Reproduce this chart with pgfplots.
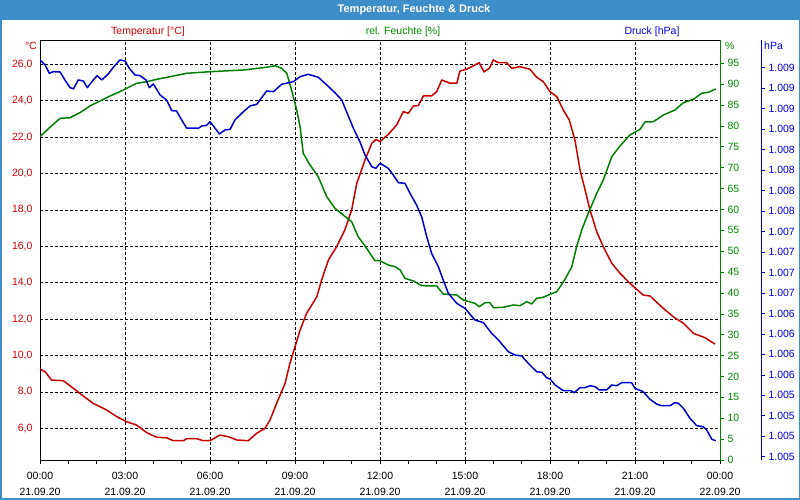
\documentclass[border=0pt]{standalone}
\usepackage{fontspec}
\setmainfont{Liberation Sans}
\usepackage{pgfplots}
\pgfplotsset{compat=1.18}
\definecolor{titlebar}{RGB}{61,142,201}
\definecolor{tred}{RGB}{200,0,0}
\definecolor{tredtxt}{RGB}{215,0,0}
\definecolor{hgreen}{RGB}{0,128,0}
\definecolor{hgreentxt}{RGB}{0,140,0}
\definecolor{pblue}{RGB}{0,0,204}
\definecolor{pbluetxt}{RGB}{0,0,225}
\newcommand{\tfont}{\fontsize{10.5}{16}\selectfont}
\pgfplotsset{
  common/.style={
    at={(40pt,40pt)}, anchor=south west,
    width=680pt, height=419.7pt, scale only axis,
    xmin=0, xmax=24,
    tick align=outside,
    major tick length=4pt, minor tick length=4pt,
    tick label style={font=\tfont},
    /pgf/number format/assume math mode=true,
  }
}
\begin{document}
\begin{tikzpicture}
\fill[titlebar] (0pt,0pt) rectangle (800pt,500pt);
\fill[white] (1.5pt,1.5pt) rectangle (798.5pt,479.5pt);
\node[white, font=\fontsize{11}{13}\selectfont\bfseries] at (414pt,490pt) {Temperatur, Feuchte \& Druck};
\node[tredtxt, font=\tfont] at (148pt,468pt) {Temperatur [°C]};
\node[hgreentxt, font=\tfont] at (403pt,468pt) {rel. Feuchte [\%]};
\node[pbluetxt, font=\tfont] at (652pt,468pt) {Druck [hPa]};
\node[tredtxt, font=\tfont, anchor=east, inner sep=0pt] at (37pt,454pt) {°C};
\node[hgreentxt, font=\tfont, anchor=west, inner sep=0pt] at (725pt,454pt) {\%};
\node[pbluetxt, font=\tfont, anchor=west, inner sep=0pt] at (764pt,454pt) {hPa};

% Temperature axis with grid and time axis
\begin{axis}[common,
  ymin=4.26, ymax=27.32,
  axis line style={black, line width=0.8pt},
  xtick={0,3,...,24},
  xticklabels={{00:00\\21.09.20},{03:00\\21.09.20},{06:00\\21.09.20},{09:00\\21.09.20},{12:00\\21.09.20},{15:00\\21.09.20},{18:00\\21.09.20},{21:00\\21.09.20},{00:00\\22.09.20}},
  minor xtick={1,2,4,5,7,8,10,11,13,14,16,17,19,20,22,23},
  xtick pos=left, ytick pos=left,
  ytick={6,8,...,26},
  ytick style={draw=none},
  xtick style={black, line width=0.6pt},
  minor tick style={black, line width=0.6pt},
  xmajorgrids, ymajorgrids,
  major grid style={black, line width=0.6pt, dash pattern=on 3pt off 2pt},
  xticklabel style={align=center, black, yshift=-5pt},
  yticklabel style={tredtxt, /pgf/number format/fixed, /pgf/number format/fixed zerofill, /pgf/number format/precision=1, /pgf/number format/use comma},
]
\addplot[tred, line width=1.5pt, line join=round] coordinates {
(0,9.26)(0.18,9.11)(0.41,8.65)(0.82,8.62)(1.18,8.20)(1.53,7.77)(1.88,7.37)(2.35,7.01)(2.71,6.64)(3.06,6.36)(3.41,6.18)(3.77,5.76)(4.12,5.51)(4.47,5.48)(4.70,5.32)(5.06,5.32)(5.18,5.43)(5.53,5.43)(5.76,5.32)(6.0,5.32)(6.35,5.63)(6.65,5.54)(6.94,5.36)(7.35,5.32)(7.65,5.73)(7.94,6.00)(8.12,6.46)(8.35,7.37)(8.65,8.47)(8.82,9.57)(9.00,10.48)(9.18,11.40)(9.41,12.32)(9.77,13.23)(9.94,14.15)(10.18,15.25)(10.47,15.98)(10.76,16.90)(11.00,18.00)(11.18,19.46)(11.47,20.74)(11.71,21.66)(11.86,21.88)(12.00,21.75)(12.29,22.15)(12.59,22.67)(12.82,23.40)(13.00,23.31)(13.18,23.71)(13.35,23.73)(13.53,24.26)(13.82,24.26)(14.00,24.50)(14.18,25.14)(14.47,24.96)(14.71,24.96)(14.82,25.63)(15.06,25.73)(15.29,25.91)(15.50,26.09)(15.67,25.58)(15.86,25.78)(16.00,26.24)(16.18,26.09)(16.47,26.09)(16.65,25.78)(16.94,25.87)(17.29,25.73)(17.53,25.29)(17.76,25.05)(18.00,24.50)(18.24,24.22)(18.47,23.49)(18.68,22.94)(18.88,21.84)(19.06,20.19)(19.24,19.09)(19.41,18.00)(19.65,16.80)(19.88,15.98)(20.18,15.07)(20.47,14.52)(20.82,13.97)(21.29,13.32)(21.53,13.27)(22.00,12.59)(22.35,12.13)(22.71,11.77)(23.06,11.22)(23.47,10.98)(23.82,10.63)
};
\end{axis}

% Humidity axis
\begin{axis}[common,
  ymin=0, ymax=100.5,
  axis x line=none, axis y line*=right,
  y axis line style={hgreen, line width=0.8pt},
  ytick={0,5,...,95},
  ytick style={hgreen, line width=0.6pt},
  yticklabel style={hgreentxt},
]
\addplot[hgreen, line width=1.5pt, line join=round] coordinates {
(0,77.42)(0.35,79.67)(0.71,81.82)(1.06,81.97)(1.41,83.17)(1.76,84.77)(2.12,85.97)(2.47,87.16)(2.82,88.19)(3.06,89.01)(3.41,90.20)(3.77,90.59)(4.12,91.16)(4.59,91.79)(5.18,92.60)(6.00,92.98)(7.18,93.39)(8.00,94.04)(8.29,94.42)(8.53,93.80)(8.71,92.60)(8.88,88.60)(9.06,83.81)(9.18,79.81)(9.29,73.44)(9.53,70.64)(9.82,67.84)(10.12,63.05)(10.41,60.27)(10.70,58.67)(11.00,57.06)(11.23,53.47)(11.53,50.69)(11.82,47.72)(12.00,47.72)(12.29,46.69)(12.53,46.29)(12.71,45.50)(12.88,43.51)(13.18,42.86)(13.47,41.74)(14.00,41.67)(14.23,39.75)(14.71,39.51)(14.94,38.31)(15.35,37.52)(15.50,36.71)(15.71,37.67)(15.88,37.67)(16.00,36.47)(16.35,36.57)(16.71,37.12)(16.94,36.95)(17.18,37.91)(17.35,37.36)(17.53,38.72)(17.76,38.96)(18.00,39.68)(18.24,40.30)(18.53,43.27)(18.77,46.29)(18.94,51.08)(19.12,55.08)(19.35,59.07)(19.65,63.86)(19.88,67.05)(20.18,72.63)(20.47,75.19)(20.82,77.82)(21.18,79.19)(21.35,80.94)(21.65,81.01)(22.00,82.61)(22.41,83.81)(22.71,85.56)(23.06,86.37)(23.35,87.81)(23.59,88.05)(23.85,88.84)
};
\end{axis}

% Pressure axis
\begin{axis}[common,
  ymin=1004.71, ymax=1009.835,
  axis x line=none, axis y line*=right,
  axis y line shift=41pt,
  y axis line style={pblue, line width=0.8pt},
  ytick={1004.75,1005,1005.25,1005.5,1005.75,1006,1006.25,1006.5,1006.75,1007,1007.25,1007.5,1007.75,1008,1008.25,1008.5,1008.75,1009,1009.25,1009.5},
  yticklabels={1.005,1.005,1.005,1.005,1.006,1.006,1.006,1.006,1.007,1.007,1.007,1.007,1.008,1.008,1.008,1.008,1.009,1.009,1.009,1.009},
  ytick style={pblue, line width=0.6pt},
  yticklabel style={pbluetxt},
]
\addplot[pblue, line width=1.5pt, line join=round] coordinates {
(0,1009.595)(0.18,1009.534)(0.33,1009.432)(0.47,1009.452)(0.71,1009.448)(0.88,1009.351)(1.06,1009.257)(1.18,1009.241)(1.35,1009.351)(1.53,1009.338)(1.67,1009.257)(1.88,1009.351)(2.02,1009.403)(2.18,1009.351)(2.41,1009.424)(2.59,1009.506)(2.82,1009.595)(3.00,1009.583)(3.15,1009.493)(3.35,1009.412)(3.53,1009.403)(3.74,1009.351)(3.86,1009.257)(4.00,1009.302)(4.24,1009.167)(4.47,1009.106)(4.65,1008.976)(4.82,1008.972)(5.00,1008.862)(5.18,1008.761)(5.59,1008.761)(5.71,1008.789)(5.88,1008.797)(6.00,1008.841)(6.14,1008.780)(6.33,1008.691)(6.53,1008.740)(6.71,1008.748)(6.88,1008.862)(7.12,1008.944)(7.41,1009.033)(7.65,1009.054)(8.00,1009.216)(8.24,1009.208)(8.53,1009.298)(8.94,1009.330)(9.18,1009.391)(9.47,1009.420)(9.82,1009.384)(10.12,1009.290)(10.41,1009.195)(10.65,1009.106)(10.82,1008.963)(11.06,1008.761)(11.29,1008.597)(11.47,1008.435)(11.71,1008.292)(11.85,1008.272)(12.00,1008.333)(12.29,1008.272)(12.47,1008.190)(12.65,1008.096)(12.88,1008.089)(13.06,1007.967)(13.29,1007.824)(13.47,1007.681)(13.65,1007.437)(13.82,1007.234)(14.06,1007.070)(14.23,1006.908)(14.41,1006.746)(14.71,1006.623)(15.00,1006.562)(15.35,1006.419)(15.65,1006.387)(15.94,1006.257)(16.18,1006.175)(16.53,1006.032)(16.76,1005.992)(17.00,1005.980)(17.29,1005.870)(17.53,1005.788)(17.71,1005.781)(17.88,1005.715)(18.00,1005.699)(18.18,1005.626)(18.47,1005.556)(18.74,1005.556)(18.85,1005.532)(19.06,1005.593)(19.24,1005.593)(19.41,1005.617)(19.59,1005.605)(19.74,1005.565)(20.00,1005.565)(20.18,1005.626)(20.35,1005.617)(20.53,1005.654)(20.88,1005.654)(21.00,1005.585)(21.29,1005.544)(21.53,1005.451)(21.76,1005.394)(21.94,1005.373)(22.24,1005.373)(22.41,1005.410)(22.53,1005.402)(22.71,1005.341)(22.94,1005.219)(23.18,1005.129)(23.41,1005.116)(23.53,1005.076)(23.71,1004.963)(23.85,1004.945)
};
\end{axis}
\end{tikzpicture}
\end{document}
